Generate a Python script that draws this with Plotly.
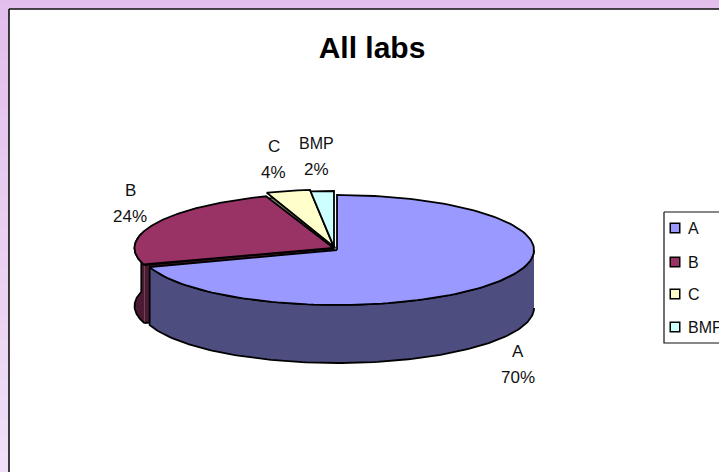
import numpy as np
import plotly.graph_objects as go

# data
labs = ["A", "B", "C", "BMP"]
shares = [70.0, 24.5, 3.6, 1.9]
top_colors = ["#9999FF", "#993366", "#FFFFCC", "#CCFFFF"]
side_colors = ["#4D4D80", "#4D1A33", "#808066", "#668080"]
title_text = "All labs"

# pie geometry in pixels (projection of the 3-D disc)
W, H = 719, 472
RX, RY, DEPTH = 197, 55, 58
radius_x = {"A": RX, "B": 199, "C": RX, "BMP": RX}
centers = {"A": (337, 250), "B": (333.5, 248), "C": (334, 246.5), "BMP": (334, 247)}
label_pos = {"A": (518, 351), "B": (130, 190), "C": (274, 146), "BMP": (316, 143)}
key_rows = {"A": 228, "B": 262, "C": 294, "BMP": 327}
KEY_X = 675
FONT = "Liberation Sans, Arial, sans-serif"
LW = 1.8

cum = np.cumsum([0] + shares) / sum(shares) * 2 * np.pi
span = {n: (cum[i], cum[i + 1]) for i, n in enumerate(labs)}


def arc(name, cx, cy, a0=None, a1=None):
    s0, s1 = span[name]
    a0 = s0 if a0 is None else a0
    a1 = s1 if a1 is None else a1
    t = np.linspace(a0, a1, 140)
    return cx + radius_x[name] * np.sin(t), cy - RY * np.cos(t)


fig = go.Figure()

# page background gradient
rows = np.arange(0, H + 8, 8)
fig.add_trace(go.Heatmap(x=[0, W], y=rows, z=[[r, r] for r in rows],
                         colorscale=[[0, "#E2BEEC"], [1, "#F0E0F7"]],
                         showscale=False, hoverinfo="skip"))


def poly(x, y, fill, lw=LW, lc="#000000"):
    fig.add_trace(go.Scatter(x=list(x), y=list(y), mode="lines", fill="toself",
                             fillcolor=fill, line=dict(color=lc, width=lw),
                             showlegend=False, hoverinfo="skip"))


# chart panel
poly([9, W + 5, W + 5, 9, 9], [9, 9, H + 5, H + 5, 9], "#FFFFFF", 1.6, "#111111")

# B: outer wall and cut face
cx, cy = centers["B"]
x, y = arc("B", cx, cy, span["B"][0], np.deg2rad(285))
poly(np.r_[x, x[::-1]], np.r_[y, y[::-1] + DEPTH], side_colors[1])
poly([x[0], cx, cx, x[0]], [y[0], cy, cy + DEPTH, y[0] + DEPTH], side_colors[1])

# A: wall and top
cx, cy = centers["A"]
x, y = arc("A", cx, cy, np.deg2rad(90), span["A"][1])
poly(np.r_[x, x[::-1]], np.r_[y, y[::-1] + DEPTH], side_colors[0])
x, y = arc("A", cx, cy)
poly(np.r_[cx, x, cx], np.r_[cy, y, cy], top_colors[0])

# B top
cx, cy = centers["B"]
x, y = arc("B", cx, cy)
poly(np.r_[cx, x, cx], np.r_[cy, y, cy], top_colors[1])

# C cut-face strip, C top, BMP top
cx, cy = centers["C"]
x, y = arc("C", cx, cy)
poly(np.r_[cx + 1.5, x + 1.5, cx + 1.5], np.r_[cy + 2, y + 3.5, cy + 2], side_colors[2], 1.2)
x, y = arc("C", cx - 0.5, cy - 2)
poly(np.r_[cx - 0.5, x, cx - 0.5], np.r_[cy, y, cy], top_colors[2])
cx, cy = centers["BMP"]
x, y = arc("BMP", cx, cy - 1)
poly(np.r_[cx, x, cx], np.r_[cy, y, cy], top_colors[3])

# data labels (two rows each)
for name, share in zip(labs, shares):
    lx, ly = label_pos[name]
    fig.add_annotation(x=lx, y=ly, text=name, showarrow=False,
                       font=dict(family=FONT, size=16 if name == "BMP" else 17, color="#111111"))
    fig.add_annotation(x=lx - (1 if name == "C" else 0), y=ly + 26.5, text=f"{round(share)}%", showarrow=False,
                       font=dict(family=FONT, size=17, color="#111111"))

# legend frame
poly([664, W + 5, W + 5, 664, 664], [212, 212, 343, 343, 212], "#FFFFFF", 1.2, "#111111")

# legend entries (swatch and label)
for name, col in zip(labs, top_colors):
    fig.add_trace(go.Scatter(x=[KEY_X], y=[key_rows[name]], mode="markers", name=name,
                             marker=dict(symbol="square", size=9.5, color=col,
                                         line=dict(color="#000000", width=1.5)),
                             showlegend=False, hoverinfo="skip"))
    fig.add_annotation(x=KEY_X + 11, y=key_rows[name], text=name, showarrow=False,
                       xanchor="left",
                       font=dict(family=FONT, size=16, color="#111111"))

fig.update_layout(
    width=W, height=H, margin=dict(l=0, r=0, t=0, b=0),
    showlegend=False,
    paper_bgcolor="#FFFFFF", plot_bgcolor="#FFFFFF",
    font=dict(family=FONT, color="#111111"),
    title=dict(text=f"<b>{title_text}</b>", x=372 / W, xanchor="center", y=1 - 47 / H, yanchor="middle",
               font=dict(family=FONT, size=30, color="#000000")),
    xaxis=dict(range=[0, W], visible=False, fixedrange=True),
    yaxis=dict(range=[H, 0], visible=False, fixedrange=True),
)

fig.write_html("out.html", config={"displayModeBar": False},
               post_script="document.body.style.margin='0';document.documentElement.style.overflow='hidden';")
